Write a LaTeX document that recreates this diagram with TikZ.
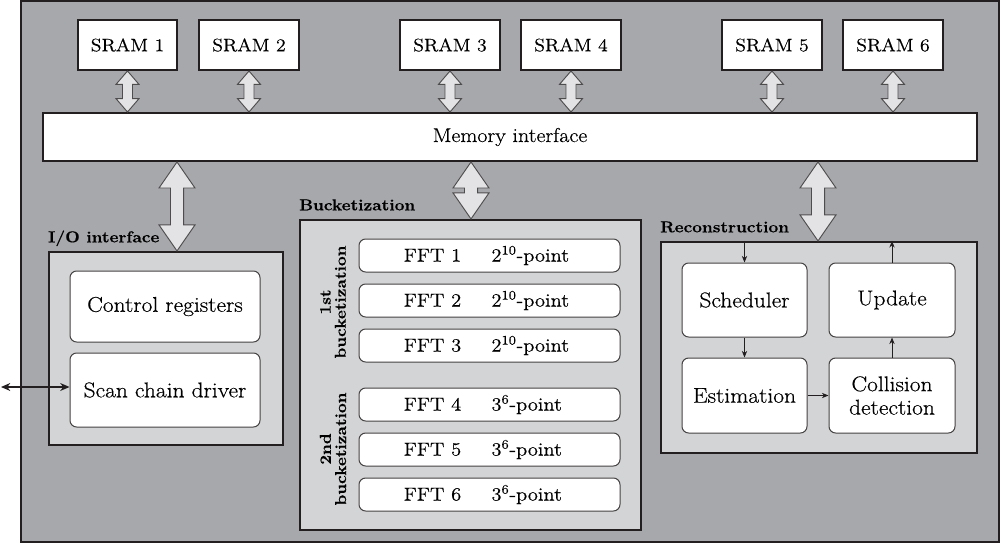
\documentclass[tikz,border=0pt]{standalone}
\usepackage{fontspec}
\setmainfont{Latin Modern Roman}[FakeStretch=1.1, FakeBold=0.4]
\usetikzlibrary{arrows.meta,calc}
\definecolor{outerbg}{HTML}{A7A8AC}
\definecolor{panelbg}{HTML}{D3D4D6}
\definecolor{arrowbg}{HTML}{E3E3E5}
\definecolor{ink}{HTML}{231F20}
\newcommand\fatarrow[5]{%
  \draw[fatarrowstyle] let \p1=(#1), \p2=(#2) in
   (\x1,\y1) -- (\x1+#3,\y1-#5) -- (\x1+#4,\y1-#5) -- (\x1+#4,\y2+#5) -- (\x1+#3,\y2+#5)
   -- (\x1,\y2) -- (\x1-#3,\y2+#5) -- (\x1-#4,\y2+#5) -- (\x1-#4,\y1-#5) -- (\x1-#3,\y1-#5) -- cycle;}
\newcommand\fftrow[2]{\makebox[88.5pt][c]{#1}\makebox[85.5pt][l]{#2}}
\begin{document}
\begin{tikzpicture}[x=0.75pt,y=-0.75pt,
  box at/.style n args={4}{at={({(#1+#3)/2},{(#2+#4)/2})}, anchor=center,
     minimum width={(#3-#1)*0.75pt}, minimum height={(#4-#2)*0.75pt}},
  fatarrowstyle/.style={draw=ink!80, line width=0.7pt, fill=arrowbg, line join=miter},
  sram/.style={draw=ink, line width=1.5pt, fill=white, inner sep=0pt, font=\fontsize{13.5}{16}\selectfont},
  mif/.style={font=\fontsize{15}{17}\selectfont},
  panel/.style={draw=ink, line width=1.6pt, fill=panelbg, inner sep=0pt},
  rbox/.style={draw=ink!85, line width=0.75pt, fill=white, rounded corners=5pt, inner sep=0pt, align=center, font=\fontsize{16}{17.5}\selectfont},
  fftbox/.style={draw=ink!85, line width=0.75pt, fill=white, rounded corners=5pt, inner sep=0pt, font=\fontsize{14}{16}\selectfont},
  lbl/.style={anchor=base west, inner sep=0pt, font=\bfseries\fontsize{11.8}{14}\selectfont},
  rotlbl/.style={rotate=90, align=center, inner sep=0pt, font=\bfseries\fontsize{11.8}{11.4}\selectfont},
  thinarrow/.style={draw=ink, line width=0.6pt, -{Stealth[length=5pt,width=4pt]}},
  extarrow/.style={draw=ink, line width=0.9pt, {Stealth[length=7pt,width=6pt]}-{Stealth[length=7pt,width=6pt]}}
]
\useasboundingbox (0,0) rectangle (1001,543);
\draw[draw=ink, line width=1.2pt, fill=outerbg] (21,1) rectangle (999,542);

% SRAMs
\node[sram, box at={78}{20}{177}{70}] (s1) {SRAM 1};
\node[sram, box at={199}{20}{299}{70}] (s2) {SRAM 2};
\node[sram, box at={400}{20}{500}{70}] (s3) {SRAM 3};
\node[sram, box at={521}{20}{621}{70}] (s4) {SRAM 4};
\node[sram, box at={722}{20}{822}{70}] (s5) {SRAM 5};
\node[sram, box at={843}{20}{943}{70}] (s6) {SRAM 6};

% memory interface
\node[sram, mif, box at={43}{113}{977}{161}] (mi) {Memory interface};

% I/O interface
\node[panel, box at={49}{252}{283}{445}] (io) {};
\node[lbl] (iolbl) at ([yshift=6.5pt]io.north west) {I/O interface};
\node[rbox, box at={70}{271}{260}{342}] (ctrl) {Control registers};
\node[rbox, box at={70}{353}{260}{427}] (scan) {Scan chain driver};

% Bucketization
\node[panel, box at={300}{220}{641}{530}] (bk) {};
\node[lbl] (bklbl) at ([yshift=6.5pt]bk.north west) {Bucketization};
\node[fftbox, box at={359}{239}{620}{272}] (f1) {\fftrow{FFT 1}{2\textsuperscript{10}-point}};
\node[fftbox, box at={359}{284}{620}{317}] (f2) {\fftrow{FFT 2}{2\textsuperscript{10}-point}};
\node[fftbox, box at={359}{329}{620}{362}] (f3) {\fftrow{FFT 3}{2\textsuperscript{10}-point}};
\node[fftbox, box at={359}{388}{620}{421}] (f4) {\fftrow{FFT 4}{3\textsuperscript{6}-point}};
\node[fftbox, box at={359}{433}{620}{466}] (f5) {\fftrow{FFT 5}{3\textsuperscript{6}-point}};
\node[fftbox, box at={359}{478}{620}{511}] (f6) {\fftrow{FFT 6}{3\textsuperscript{6}-point}};
\node[rotlbl] (lb1) at (333,302) {1st\\bucketization};
\node[rotlbl] (lb2) at (333,449) {2nd\\bucketization};

% Reconstruction
\node[panel, box at={661}{242}{977}{453}] (rec) {};
\node[lbl] (reclbl) at ([yshift=6.5pt]rec.north west) {Reconstruction};
\node[rbox, box at={682}{263}{807}{337}] (sch) {Scheduler};
\node[rbox, box at={829}{263}{955}{337}] (upd) {Update};
\node[rbox, box at={682}{358}{807}{433}] (est) {Estimation};
\node[rbox, box at={829}{358}{955}{433}] (col) {Collision\\detection};

\draw[thinarrow] (sch.north |- rec.north) -- (sch.north);
\draw[thinarrow] (sch.south) -- (est.north);
\draw[thinarrow] (est.east) -- (col.west);
\draw[thinarrow] (col.north) -- (upd.south);
\draw[thinarrow] (upd.north) -- (upd.north |- rec.north);

% external arrow
\coordinate (ext) at (1,387);
\draw[extarrow] (ext) -- (ext -| scan.west);

% SRAM arrows
\foreach \sn in {s1,s2,s3,s4,s5,s6}{
  \fatarrow{\sn.south}{\sn.south |- mi.north}{8.6pt}{3.75pt}{10pt}
}

% big arrows
\coordinate (ioc) at (177,0);
\coordinate (bkc) at (471,0);
\coordinate (recc) at (818,0);
\fatarrow{ioc |- mi.south}{ioc |- io.north}{13.5pt}{4.9pt}{19.5pt}
\fatarrow{bkc |- mi.south}{bkc |- bk.north}{13.5pt}{4.9pt}{19.5pt}
\fatarrow{recc |- mi.south}{recc |- rec.north}{13.5pt}{4.9pt}{19.5pt}
\end{tikzpicture}
\end{document}
